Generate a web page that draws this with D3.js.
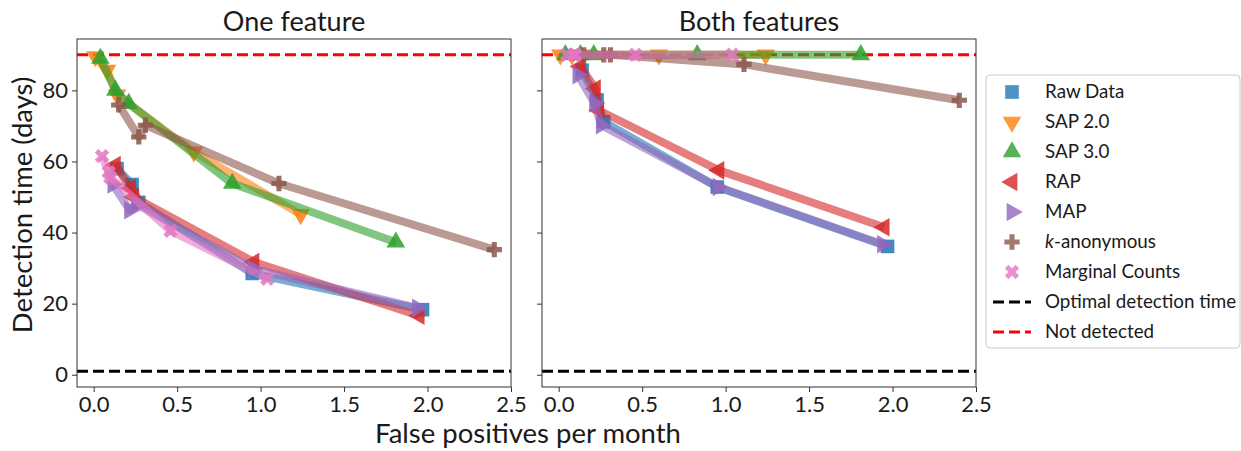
<html>
<head>
<script src="https://cdnjs.cloudflare.com/ajax/libs/d3/7.8.5/d3.min.js"></script>
<style>
  body { margin: 0; background: #fff; }
  text { font-family: Lato, "Noto Sans", sans-serif; fill: #1a1a1a; }
</style>
</head>
<body>
<svg id="chart" width="1241" height="451"></svg>
<script>
// series names and colours (matplotlib tab10)
const seriesNames = ["Raw Data", "SAP 2.0", "SAP 3.0", "RAP", "MAP", "k-anonymous", "Marginal Counts"];
const seriesColors = ["#1f77b4", "#ff7f0e", "#2ca02c", "#d62728", "#9467bd", "#8c564b", "#e377c2"];

// false positives per month (x), detection time one feature / both features (y)
const rawFp = [0.14, 0.23, 0.27, 0.95, 1.97];
const rawOne = [58, 53.5, 48.5, 28.5, 18.3];
const rawBoth = [85.7, 77.3, 71.2, 52.8, 36.1];

const sap2Fp = [0.01, 0.08, 0.14, 0.60, 1.24];
const sap2One = [89.5, 85.7, 78.7, 62.7, 45.1];
const sap2Both = [90, 90, 90, 90, 90];

const sap3Fp = [0.04, 0.13, 0.21, 0.83, 1.81];
const sap3One = [89, 80, 76.3, 53.8, 37.3];
const sap3Both = [90, 90, 90, 90, 90];

const rapFp = [0.13, 0.22, 0.24, 0.96, 1.95];
const rapOne = [59, 52.5, 50, 31.7, 16.6];
const rapBoth = [86.7, 80.5, 74.4, 57.5, 41.5];

const mapFp = [0.115, 0.215, 0.255, 0.955, 1.94];
const mapOne = [53.5, 46.3, 48, 29.8, 18.8];
const mapBoth = [84.3, 76.3, 70.2, 52.8, 36.7];

const kAnonFp = [0.15, 0.27, 0.31, 1.11, 2.40];
const kAnonOne = [75.9, 66.9, 70.2, 53.8, 35.2];
const kAnonBoth = [90, 90, 90, 87.3, 77.2];

const marginalFp = [0.05, 0.09, 0.10, 0.46, 1.04];
const marginalOne = [61.5, 57, 55.5, 40.5, 27];
const marginalBoth = [90, 90, 90, 90, 90];

const optimalTime = 1;
const notDetected = 90;

const xTicks = [0, 0.5, 1, 1.5, 2, 2.5];
const yTicks = [0, 20, 40, 60, 80];
const panelTitles = ["One feature", "Both features"];

const fps = [rawFp, sap2Fp, sap3Fp, rapFp, mapFp, kAnonFp, marginalFp];
const ones = [rawOne, sap2One, sap3One, rapOne, mapOne, kAnonOne, marginalOne];
const boths = [rawBoth, sap2Both, sap3Both, rapBoth, mapBoth, kAnonBoth, marginalBoth];

// marker shapes: [d3 symbol type, size, rotation]
const markers = [
  [d3.symbolSquare, 185, 0],
  [d3.symbolTriangle, 150, 180],
  [d3.symbolTriangle, 150, 0],
  [d3.symbolTriangle, 150, -90],
  [d3.symbolTriangle, 150, 90],
  [d3.symbolCross, 130, 0],
  [d3.symbolCross, 130, 45]
];

const svg = d3.select("#chart");
svg.append("rect").attr("width", 1241).attr("height", 451).attr("fill", "#fff");

const y = d3.scaleLinear().domain([-3.45, 94.45]).range([387, 39]);
const panels = [
  d3.scaleLinear().domain([-0.1, 2.5]).range([77, 511]),
  d3.scaleLinear().domain([-0.1, 2.5]).range([542, 976])
];

panels.forEach((x, p) => {
  const g = svg.append("g");

  // reference lines first
  [[notDetected, "#ff0000"], [optimalTime, "#000"]].forEach(([v, c]) => {
    g.append("line")
      .attr("x1", x.range()[0]).attr("x2", x.range()[1])
      .attr("y1", y(v)).attr("y2", y(v))
      .attr("stroke", c).attr("stroke-width", 3)
      .attr("stroke-dasharray", "11,5");
  });

  const line = d3.line().x(d => x(d[0])).y(d => y(d[1]));

  seriesNames.forEach((name, i) => {
    const ys = p === 0 ? ones[i] : boths[i];
    const pts = fps[i].map((v, j) => [v, ys[j]]);
    g.append("path")
      .attr("d", line(pts))
      .attr("fill", "none")
      .attr("stroke", seriesColors[i])
      .attr("stroke-opacity", 0.6)
      .attr("stroke-width", 8)
      .attr("stroke-linejoin", "round");
    const m = markers[i];
    g.selectAll(null).data(pts).enter().append("path")
      .attr("d", d3.symbol().type(m[0]).size(m[1]))
      .attr("transform", d => `translate(${x(d[0])},${y(d[1])}) rotate(${m[2]})`)
      .attr("fill", seriesColors[i])
      .attr("fill-opacity", 0.85);
  });

  // frame
  g.append("rect")
    .attr("x", x.range()[0]).attr("y", 39)
    .attr("width", x.range()[1] - x.range()[0]).attr("height", 348)
    .attr("fill", "none").attr("stroke", "#333").attr("stroke-width", 1);

  const xa = g.append("g").attr("transform", "translate(0,387)")
    .call(d3.axisBottom(x).tickValues(xTicks).tickFormat(d3.format(".1f")).tickSize(5).tickPadding(4));
  const ya = g.append("g").attr("transform", `translate(${x.range()[0]},0)`)
    .call(d3.axisLeft(y).tickValues(yTicks).tickSize(5).tickPadding(4)
      .tickFormat(p === 0 ? d3.format("d") : () => ""));
  [xa, ya].forEach(a => {
    a.select(".domain").remove();
    a.selectAll("line").attr("stroke", "#333");
    a.selectAll("text").style("font-size", "22px").style("font-family", "Lato, sans-serif").attr("fill", "#222");
  });

  g.append("text")
    .attr("x", (x.range()[0] + x.range()[1]) / 2).attr("y", 31)
    .attr("text-anchor", "middle")
    .style("font-size", "27px")
    .text(panelTitles[p]);
});

svg.append("text")
  .attr("x", 528).attr("y", 443)
  .attr("text-anchor", "middle")
  .style("font-size", "27.5px")
  .text("False positives per month");

svg.append("text")
  .attr("transform", "translate(32,205) rotate(-90)")
  .attr("text-anchor", "middle")
  .style("font-size", "27.5px")
  .text("Detection time (days)");

// legend
const lg = svg.append("g");
lg.append("rect")
  .attr("x", 986).attr("y", 75).attr("width", 254).attr("height", 273)
  .attr("rx", 4).attr("fill", "#fff").attr("stroke", "#ccc");

seriesNames.forEach((name, i) => {
  const yy = 92 + i * 30;
  const m = markers[i];
  lg.append("path")
    .attr("d", d3.symbol().type(m[0]).size(m[1]))
    .attr("transform", `translate(1012,${yy}) rotate(${m[2]})`)
    .attr("fill", seriesColors[i]).attr("fill-opacity", 0.8);
  const t = lg.append("text").attr("x", 1045).attr("y", yy + 6).style("font-size", "18.8px");
  if (name === "k-anonymous") {
    t.append("tspan").style("font-style", "italic").text("k");
    t.append("tspan").text("-anonymous");
  } else {
    t.text(name);
  }
});

[["Optimal detection time", "#000"], ["Not detected", "#ff0000"]].forEach(([name, c], k) => {
  const yy = 92 + (7 + k) * 30;
  lg.append("line")
    .attr("x1", 993).attr("x2", 1031).attr("y1", yy).attr("y2", yy)
    .attr("stroke", c).attr("stroke-width", 3).attr("stroke-dasharray", "11,5");
  lg.append("text").attr("x", 1045).attr("y", yy + 6).style("font-size", "18.8px").text(name);
});
</script>
</body>
</html>
